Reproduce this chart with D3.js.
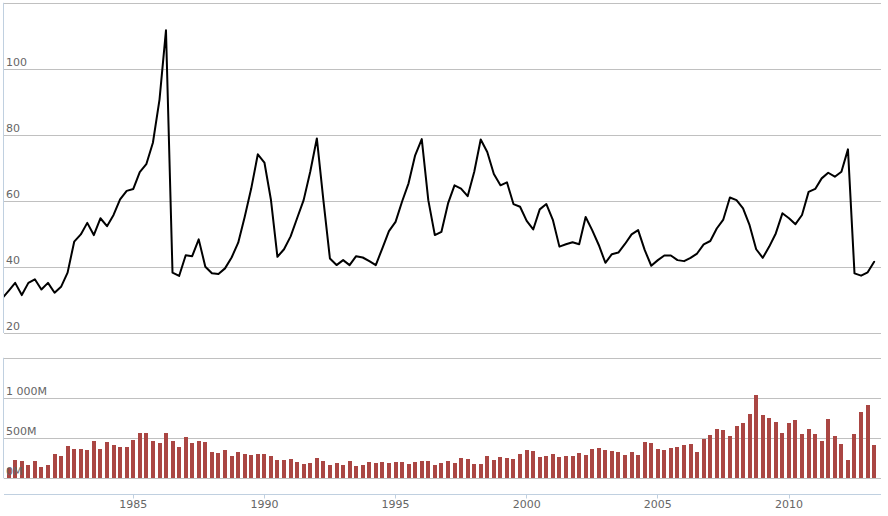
<!DOCTYPE html>
<html>
<head>
<meta charset="utf-8">
<script src="https://cdn.jsdelivr.net/npm/d3@7"></script>
<style>
  html, body { margin: 0; padding: 0; background: #fff; }
  svg { display: block; }
  text { font-family: "DejaVu Sans", Verdana, sans-serif; font-size: 11px; }
</style>
</head>
<body>
<svg id="chart" width="888" height="516"></svg>
<script>
// ---- data (quarterly, starting 1980 Q1) ----
const startDate = "1980-01-01";
const price = [30.5, 32.8, 35.2, 31.5, 35.2, 36.3, 33.2, 35.2, 32.2, 34.0,
  38.3, 47.7, 49.9, 53.4, 49.7, 54.8, 52.4, 55.8, 60.5, 63.1,
  63.7, 68.8, 71.2, 77.7, 90.8, 111.8, 38.3, 37.3, 43.6, 43.3,
  48.4, 40.1, 38.1, 37.9, 39.6, 42.9, 47.4, 55.2, 63.8, 74.2,
  71.7, 60.5, 43.1, 45.4, 49.3, 54.8, 60.3, 68.9, 79.0, 60.3,
  42.6, 40.6, 42.1, 40.6, 43.3, 42.9, 41.8, 40.6, 45.7, 50.9,
  53.7, 59.8, 65.4, 73.9, 78.8, 60.3, 49.7, 50.7, 59.3, 64.8,
  63.8, 61.5, 68.9, 78.7, 74.9, 68.2, 64.8, 65.7, 59.1, 58.3,
  54.0, 51.4, 57.5, 59.1, 54.2, 46.2, 46.9, 47.5, 46.9, 55.2,
  51.2, 46.7, 41.3, 43.9, 44.4, 47.0, 49.9, 51.2, 45.2, 40.4,
  42.1, 43.5, 43.5, 42.1, 41.8, 42.8, 44.1, 46.9, 47.9, 51.7,
  54.4, 61.1, 60.3, 57.8, 52.7, 45.4, 42.8, 46.2, 50.2, 56.3,
  54.8, 53.0, 55.8, 62.8, 63.7, 66.9, 68.6, 67.4, 68.9, 75.7,
  38.1, 37.4, 38.4, 41.6];
const volume = [80, 130, 229, 217, 167, 217, 142, 167, 304, 279,
  404, 367, 367, 354, 467, 367, 454, 417, 392, 392,
  479, 567, 567, 467, 442, 567, 467, 392, 517, 442,
  467, 454, 329, 317, 354, 279, 329, 304, 292, 304,
  304, 279, 229, 229, 242, 204, 179, 192, 254, 217,
  167, 192, 167, 217, 154, 167, 204, 192, 204, 192,
  204, 204, 179, 204, 217, 217, 167, 192, 217, 192,
  254, 242, 179, 179, 279, 229, 267, 254, 242, 304,
  354, 342, 267, 279, 304, 267, 279, 279, 317, 292,
  367, 379, 354, 342, 329, 292, 329, 292, 454, 442,
  367, 354, 379, 392, 417, 429, 329, 492, 542, 617,
  604, 529, 654, 692, 804, 1042, 792, 754, 704, 567,
  692, 729, 554, 617, 554, 467, 742, 529, 429, 229,
  554, 829, 917, 417]; // millions
const yearTicks = [1985, 1990, 1995, 2000, 2005, 2010];
const priceTicks = [20, 40, 60, 80, 100, 120];
const priceTickLabels = ["20", "40", "60", "80", "100", ""];
const volTicks = [0, 500, 1000, 1500];
const volTickLabels = ["0M", "500M", "1 000M", ""];

// ---- layout ----
const W = 888, H = 516;
const left = 4, right = 881;
const top1 = 3.3, bottom1 = 333;
const top2 = 358.3, bottom2 = 478.3;
const xAxisY = 494.5;
const gridColor = "#C0C0C0", axisColor = "#C0D0E0", labelColor = "#666";

const t0 = new Date(startDate + "T00:00:00Z");
const dates = price.map((_, i) => d3.utcMonth.offset(t0, 3 * i));

const ref = d3.scaleUtc()
  .domain([new Date(Date.UTC(1985, 0, 1)), new Date(Date.UTC(2010, 0, 1))])
  .range([133.3, 789]);
const x = d3.scaleUtc().domain([ref.invert(left), ref.invert(right)]).range([left, right]);
const yP = d3.scaleLinear().domain([20, 120]).range([bottom1, top1]);
const yV = d3.scaleLinear().domain([0, 1500]).range([bottom2, top2]);

const svg = d3.select("#chart");
const defs = svg.append("defs");
defs.append("clipPath").attr("id", "clip1").append("rect")
  .attr("x", left).attr("y", 0).attr("width", right - left).attr("height", bottom1 + 2);
defs.append("clipPath").attr("id", "clip2").append("rect")
  .attr("x", left).attr("y", top2 - 2).attr("width", right - left).attr("height", bottom2 - top2 + 2);

const crisp = v => Math.round(v) + 0.5;

// gridlines
svg.append("g").selectAll("line").data(priceTicks).join("line")
  .attr("x1", left).attr("x2", right)
  .attr("y1", d => crisp(yP(d) - 0.5)).attr("y2", d => crisp(yP(d) - 0.5))
  .attr("stroke", gridColor).attr("stroke-width", 1);
svg.append("g").selectAll("line").data(volTicks).join("line")
  .attr("x1", left).attr("x2", right)
  .attr("y1", d => crisp(yV(d) - 0.5)).attr("y2", d => crisp(yV(d) - 0.5))
  .attr("stroke", gridColor).attr("stroke-width", 1);

// volume bars
const bw = 4;
svg.append("g").attr("clip-path", "url(#clip2)")
  .selectAll("rect").data(volume).join("rect")
  .attr("x", (d, i) => Math.round(x(dates[i]) - bw / 2))
  .attr("y", d => Math.round(yV(d)))
  .attr("width", bw)
  .attr("height", d => Math.round(yV(0)) - Math.round(yV(d)))
  .attr("fill", "#AA4643");

// price line
const line = d3.line().x((d, i) => x(dates[i])).y(d => yP(d));
svg.append("g").attr("clip-path", "url(#clip1)")
  .append("path").datum(price)
  .attr("d", line)
  .attr("fill", "none").attr("stroke", "#000").attr("stroke-width", 2)
  .attr("stroke-linejoin", "round").attr("stroke-linecap", "round");

// left axis lines
svg.append("line").attr("x1", 3.5).attr("x2", 3.5).attr("y1", top1 - 0.5).attr("y2", bottom1)
  .attr("stroke", axisColor).attr("stroke-width", 1);
svg.append("line").attr("x1", 3.5).attr("x2", 3.5).attr("y1", top2 - 0.5).attr("y2", bottom2)
  .attr("stroke", axisColor).attr("stroke-width", 1);

// y labels
svg.append("g").selectAll("text").data(priceTicks).join("text")
  .attr("x", 6).attr("y", d => yP(d) - 3)
  .attr("fill", labelColor)
  .text((d, i) => priceTickLabels[i]);
svg.append("g").selectAll("text").data(volTicks).join("text")
  .attr("x", 6).attr("y", d => yV(d) - 3)
  .attr("fill", labelColor)
  .text((d, i) => volTickLabels[i]);

// x axis
const xAxisG = svg.append("g").attr("transform", `translate(0,${xAxisY})`);
xAxisG.append("line").attr("x1", left).attr("x2", right).attr("y1", 0).attr("y2", 0)
  .attr("stroke", axisColor).attr("stroke-width", 1);
const tickDates = yearTicks.map(yr => new Date(Date.UTC(yr, 0, 1)));
xAxisG.selectAll("line.tick").data(tickDates).join("line").attr("class", "tick")
  .attr("x1", d => crisp(x(d) - 0.5)).attr("x2", d => crisp(x(d) - 0.5))
  .attr("y1", 0).attr("y2", 4)
  .attr("stroke", axisColor).attr("stroke-width", 1);
xAxisG.selectAll("text").data(tickDates).join("text")
  .attr("x", d => x(d)).attr("y", 13.5)
  .attr("text-anchor", "middle")
  .attr("fill", labelColor)
  .text(d => d3.utcFormat("%Y")(d));
</script>
</body>
</html>
